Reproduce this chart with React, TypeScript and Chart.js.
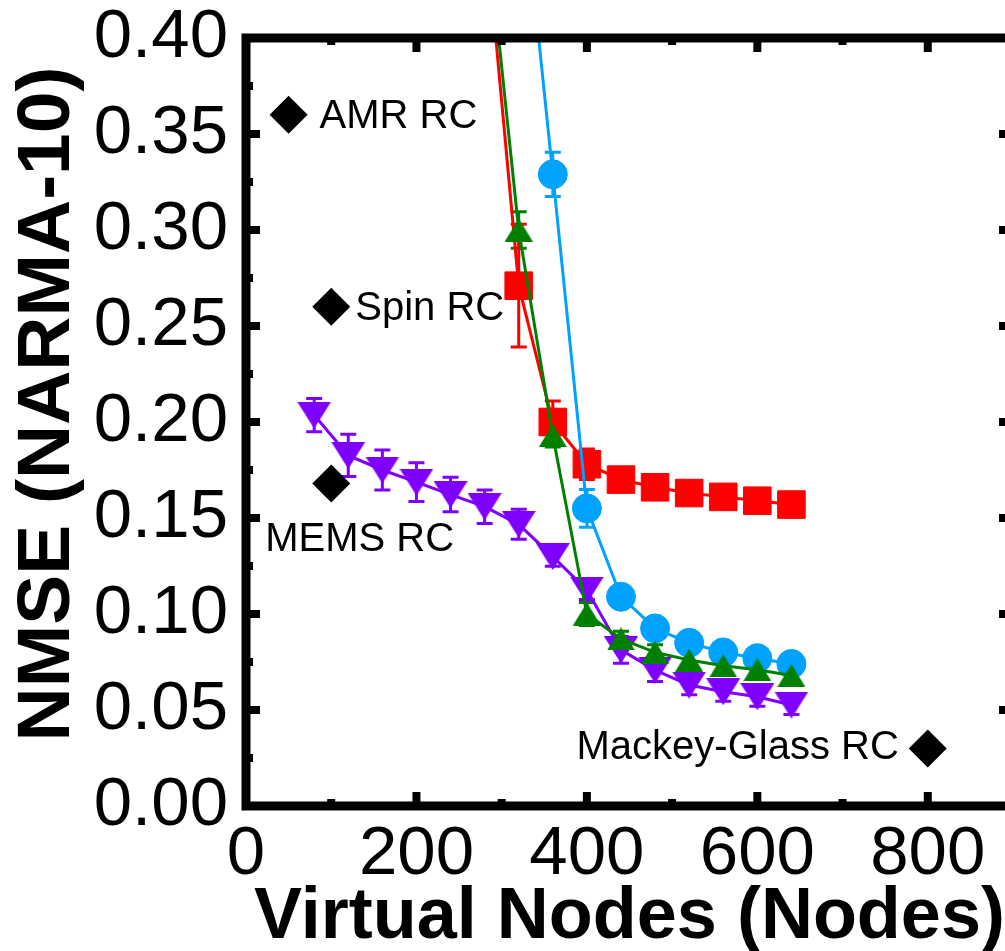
import React, { useEffect, useRef } from "react";
import { Chart, registerables } from "chart.js";
Chart.register(...registerables);

// ---------- data ----------
const xTickValues = [0, 200, 400, 600, 800];
const xMinorValues = [100, 300, 500, 700, 900];
const yTickValues = [0, 0.05, 0.1, 0.15, 0.2, 0.25, 0.3, 0.35, 0.4];
const yMinorValues = [0.025, 0.075, 0.125, 0.175, 0.225, 0.275, 0.325, 0.375];

const redNodes = [280, 320, 360, 400, 440, 480, 520, 560, 600, 640];
const redNmse = [0.463, 0.271, 0.2, 0.178, 0.17, 0.166, 0.163, 0.161, 0.159, 0.157];
const redErr = [0.03, 0.032, 0.011, 0.008, 0.005, 0.004, 0.004, 0.004, 0.004, 0.004];

const greenNodes = [280, 320, 360, 400, 440, 480, 520, 560, 600, 640];
const greenNmse = [0.47, 0.3, 0.193, 0.1, 0.087, 0.08, 0.076, 0.073, 0.071, 0.068];
const greenErr = [0.01, 0.0095, 0.006, 0.006, 0.004, 0.004, 0.004, 0.004, 0.004, 0.004];

const blueNodes = [320, 360, 400, 440, 480, 520, 560, 600, 640];
const blueNmse = [0.5, 0.329, 0.155, 0.109, 0.0925, 0.085, 0.08, 0.077, 0.074];
const blueErr = [0.01, 0.0115, 0.0098, 0.004, 0.004, 0.004, 0.004, 0.004, 0.004];

const purpleNodes = [80, 120, 160, 200, 240, 280, 320, 360, 400, 440, 480, 520, 560, 600, 640];
const purpleNmse = [0.2036, 0.1826, 0.175, 0.1687, 0.1622, 0.1559, 0.1467, 0.1299, 0.1125, 0.0813, 0.0708, 0.063, 0.0595, 0.0569, 0.0526];
const purpleErr = [0.0087, 0.011, 0.0104, 0.0101, 0.009, 0.0087, 0.0078, 0.005, 0.005, 0.007, 0.006, 0.005, 0.005, 0.005, 0.005];

const refNames = ["AMR RC", "Spin RC", "MEMS RC", "Mackey-Glass RC"];
const refNodes = [50, 100, 100, 800];
const refNmse = [0.36, 0.26, 0.168, 0.03];

// label styling (offsets from the marker, in px)
const refLabelStyle = [
  { dx: 31, dy: 2, align: "left" },
  { dx: 24, dy: 2, align: "left" },
  { dx: -66, dy: 57, align: "left" },
  { dx: -29, dy: 0, align: "right" },
];

const FONT = "'Liberation Sans', Arial, Helvetica, sans-serif";

const RED = "#ff0000";
const GREEN = "#008000";
const BLUE = "#00a2ff";
const PURPLE = "#8000ff";

function makeTriangle(w: number, h: number, color: string, inverted: boolean) {
  const c = document.createElement("canvas");
  c.width = w;
  c.height = h;
  const ctx = c.getContext("2d")!;
  ctx.fillStyle = color;
  ctx.beginPath();
  if (inverted) {
    ctx.moveTo(0, 0);
    ctx.lineTo(w, 0);
    ctx.lineTo(w / 2, h);
  } else {
    ctx.moveTo(w / 2, 0);
    ctx.lineTo(w, h);
    ctx.lineTo(0, h);
  }
  ctx.closePath();
  ctx.fill();
  return c;
}

const toPts = (xs: number[], ys: number[]) => xs.map((x, i) => ({ x, y: ys[i] }));

const errorBarPlugin = {
  id: "errorBars",
  beforeDatasetsDraw(chart: any) {
    const { ctx, chartArea } = chart;
    const xs = chart.scales.x;
    const ys = chart.scales.y;
    ctx.save();
    ctx.beginPath();
    ctx.rect(chartArea.left, chartArea.top, chartArea.right - chartArea.left, chartArea.bottom - chartArea.top);
    ctx.clip();
    chart.data.datasets.forEach((ds: any) => {
      if (!ds.errors) return;
      ctx.strokeStyle = ds.borderColor;
      ctx.lineWidth = 3;
      ds.data.forEach((p: any, i: number) => {
        const e = ds.errors[i];
        const px = xs.getPixelForValue(p.x);
        const top = ys.getPixelForValue(p.y + e);
        const bot = ys.getPixelForValue(p.y - e);
        ctx.beginPath();
        ctx.moveTo(px, top);
        ctx.lineTo(px, bot);
        ctx.moveTo(px - 8, top);
        ctx.lineTo(px + 8, top);
        ctx.moveTo(px - 8, bot);
        ctx.lineTo(px + 8, bot);
        ctx.stroke();
      });
    });
    ctx.restore();
  },
};

const framePlugin = {
  id: "frame",
  afterDraw(chart: any) {
    const { ctx, chartArea } = chart;
    const { left, right, top, bottom } = chartArea;
    const xs = chart.scales.x;
    const ys = chart.scales.y;
    ctx.save();
    ctx.strokeStyle = "#000";
    ctx.lineWidth = 9;
    ctx.lineCap = "square";
    ctx.strokeRect(left, top, right - left, bottom - top);
    ctx.lineCap = "butt";
    ctx.lineWidth = 8;
    const major = 14;
    const minor = 7;
    ctx.beginPath();
    xTickValues.forEach((v) => {
      const p = xs.getPixelForValue(v);
      ctx.moveTo(p, bottom);
      ctx.lineTo(p, bottom - major);
      ctx.moveTo(p, top);
      ctx.lineTo(p, top + major);
    });
    xMinorValues.forEach((v) => {
      const p = xs.getPixelForValue(v);
      ctx.moveTo(p, bottom);
      ctx.lineTo(p, bottom - minor);
      ctx.moveTo(p, top);
      ctx.lineTo(p, top + minor);
    });
    yTickValues.forEach((v) => {
      const p = ys.getPixelForValue(v);
      ctx.moveTo(left, p);
      ctx.lineTo(left + major, p);
      ctx.moveTo(right, p);
      ctx.lineTo(right - major, p);
    });
    yMinorValues.forEach((v) => {
      const p = ys.getPixelForValue(v);
      ctx.moveTo(left, p);
      ctx.lineTo(left + minor, p);
      ctx.moveTo(right, p);
      ctx.lineTo(right - minor, p);
    });
    ctx.stroke();

    // annotation labels
    ctx.fillStyle = "#000";
    ctx.font = `40px ${FONT}`;
    ctx.textBaseline = "middle";
    refNames.forEach((name, i) => {
      const st = refLabelStyle[i];
      const px = xs.getPixelForValue(refNodes[i]);
      const py = ys.getPixelForValue(refNmse[i]);
      ctx.textAlign = st.align as CanvasTextAlign;
      ctx.fillText(name, px + st.dx, py + st.dy);
    });

    // axis titles
    ctx.font = `bold 72px ${FONT}`;
    ctx.textAlign = "center";
    ctx.textBaseline = "alphabetic";
    ctx.fillText("Virtual Nodes (Nodes)", (left + right) / 2, 938);
    ctx.save();
    ctx.font = `bold 75px ${FONT}`;
    ctx.translate(69, (top + bottom) / 2 - 18);
    ctx.rotate(-Math.PI / 2);
    ctx.fillText("NMSE (NARMA-10)", 0, 0);
    ctx.restore();
    ctx.restore();
  },
};

export default function App() {
  const ref = useRef<HTMLCanvasElement | null>(null);
  useEffect(() => {
    if (!ref.current) return;
    const greenTri = makeTriangle(28, 23, GREEN, false);
    const purpleTri = makeTriangle(34, 27, PURPLE, true);
    const lineDs = (label: string, color: string, pts: any[], errs: number[], extra: any) => ({
      label,
      data: pts,
      errors: errs,
      borderColor: color,
      backgroundColor: color,
      pointBackgroundColor: color,
      pointBorderColor: color,
      borderWidth: 3,
      pointBorderWidth: 1,
      tension: 0,
      ...extra,
    });
    const chart = new Chart(ref.current, {
      type: "line",
      data: {
        datasets: [
          {
            label: "refs",
            data: toPts(refNodes, refNmse),
            showLine: false,
            pointStyle: "rectRot",
            pointRadius: 19,
            backgroundColor: "#000",
            borderColor: "#000",
            pointBackgroundColor: "#000",
            pointBorderWidth: 0,
          },
          lineDs("green", GREEN, toPts(greenNodes, greenNmse), greenErr, { pointStyle: greenTri }),
          lineDs("purple", PURPLE, toPts(purpleNodes, purpleNmse), purpleErr, { pointStyle: purpleTri }),
          lineDs("blue", BLUE, toPts(blueNodes, blueNmse), blueErr, { pointStyle: "circle", pointRadius: 14.5 }),
          lineDs("red", RED, toPts(redNodes, redNmse), redErr, { pointStyle: "rect", pointRadius: 19.5 }),
        ] as any,
      },
      options: {
        responsive: false,
        animation: false,
        devicePixelRatio: 1,
        layout: { padding: { top: 38, right: 27, left: 0, bottom: 0 } },
        plugins: { legend: { display: false }, tooltip: { enabled: false } },
        scales: {
          x: {
            type: "linear",
            min: 0,
            max: 900,
            grid: { display: false, drawTicks: false },
            border: { display: false },
            ticks: {
              color: "#000",
              font: { family: FONT, size: 69 },
              padding: 8,
              autoSkip: false,
              maxRotation: 0,
            },
            afterBuildTicks: (s: any) => {
              s.ticks = xTickValues.map((v) => ({ value: v }));
            },
            afterFit: (s: any) => {
              s.height = 145;
              s.paddingLeft = 0;
              s.paddingRight = 0;
            },
          },
          y: {
            type: "linear",
            min: 0,
            max: 0.4,
            grid: { display: false, drawTicks: false },
            border: { display: false },
            ticks: {
              color: "#000",
              font: { family: FONT, size: 69 },
              padding: 18,
              autoSkip: false,
              callback: (v: any) => Number(v).toFixed(2),
            },
            afterBuildTicks: (s: any) => {
              s.ticks = yTickValues.map((v) => ({ value: v }));
            },
            afterFit: (s: any) => {
              s.width = 246;
              s.paddingTop = 0;
              s.paddingBottom = 0;
            },
          },
        },
      } as any,
      plugins: [errorBarPlugin, framePlugin],
    });
    return () => chart.destroy();
  }, []);
  return (
    <div style={{ position: "fixed", left: 0, top: 0, width: 1005, height: 951, overflow: "hidden", background: "#fff" }}>
      <canvas ref={ref} width={1040} height={951} style={{ width: 1040, height: 951, display: "block" }} />
    </div>
  );
}
